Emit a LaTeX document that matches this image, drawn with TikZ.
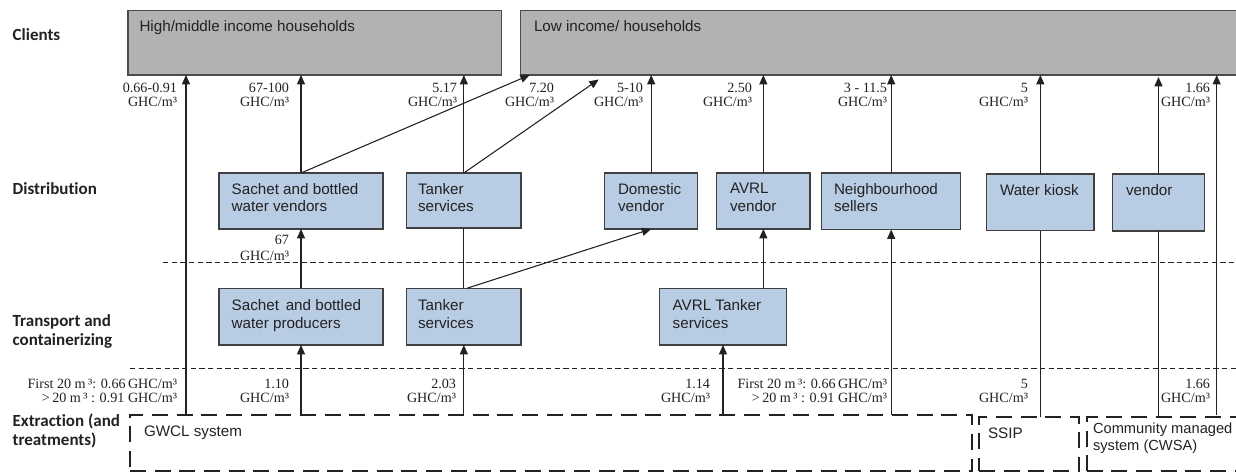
\documentclass[tikz,border=0pt]{standalone}
\usepackage{fontspec}
\setmainfont{Liberation Sans}
\newfontfamily\lblfont[Ligatures=CommonOff]{Carlito}
\newfontfamily\pricefont{Liberation Serif}
\usetikzlibrary{arrows.meta,calc,fit}
\definecolor{cgray}{HTML}{B1B2B4}
\definecolor{cblue}{HTML}{B8CCE4}
\definecolor{ink}{HTML}{222222}
\begin{document}
\begin{tikzpicture}[x=0.75pt,y=-0.75pt,
  every node/.style={inner sep=0pt, outer sep=0pt},
  clientbox/.style={draw=black!70, fill=cgray, line width=1pt, rectangle},
  actorbox/.style={draw=black!75, fill=cblue, line width=1pt, rectangle},
  extrbox/.style={draw=ink, line width=1.5pt, dash pattern=on 12pt off 6.5pt, rectangle},
  boxtext/.style={anchor=north west, align=left, text=ink, font=\fontsize{11.4}{13.1}\selectfont},
  cat/.style={anchor=west, align=left, text=ink, font=\lblfont\bfseries\fontsize{12.75}{14.6}\selectfont},
  price/.style={anchor=east, align=right, text=ink, font=\pricefont\fontsize{10.6}{10.9}\selectfont},
  arr/.style={draw=ink, line width=0.8pt, -{Triangle[length=7pt,width=6pt]}},
  link/.style={draw=ink, line width=0.8pt},
  tier/.style={draw=ink, line width=0.8pt, dash pattern=on 4pt off 2.5pt},
]
\useasboundingbox (0,0) rectangle (1236,473);
\clip (0,0) rectangle (1236,473);

% category labels
\node[cat] (lcl) at (12.7,35) {Clients};
\node[cat] (ldi) at (12.7,189) {Distribution};
\node[cat] (ltr) at (12.7,331.5) {Transport and\\containerizing};
\node[cat] (lex) at (12.7,431) {Extraction (and\\treatments)};

% tier separators
\draw[tier] (163,262.7) -- (1236,262.7);
\draw[tier] (130,368.3) -- (1236,368.3);

% clients
\node[clientbox, fit={(128,10.7) (501.7,75)}] (hm) {};
\node[clientbox, fit={(520.7,10.7) (1250,75)}] (lo) {};
\path (hm.north west) ++(11.5,9.5) node[boxtext] {High/middle income households};
\path (lo.north west) ++(13.3,9.5) node[boxtext] {Low income/ households};

% distribution
\node[actorbox, fit={(219,173) (383,229)}] (sv) {};
\node[actorbox, fit={(406.7,173) (521,228)}] (td) {};
\node[actorbox, fit={(604.7,173) (697.7,229)}] (dv) {};
\node[actorbox, fit={(716.7,173) (810,229)}] (av) {};
\node[actorbox, fit={(821.7,173) (960.7,229.5)}] (ns) {};
\node[actorbox, fit={(986.7,174) (1094,230.7)}] (wk) {};
\node[actorbox, fit={(1112.7,174) (1204.3,231)}] (ve) {};
\path (sv.north west) ++(12.7,10.5) node[boxtext] {Sachet and bottled\\water vendors};
\path (td.north west) ++(11.3,10.5) node[boxtext] {Tanker\\services};
\path (dv.north west) ++(13.3,10.5) node[boxtext] {Domestic\\vendor};
\path (av.north west) ++(13.3,10.5) node[boxtext] {AVRL\\vendor};
\path (ns.north west) ++(12.3,10.5) node[boxtext] {Neighbourhood\\sellers};
\path (wk.north west) ++(13.3,10.5) node[boxtext] {Water kiosk};
\path (ve.north west) ++(13.3,10.5) node[boxtext] {vendor};

% transport
\node[actorbox, fit={(219,288.3) (383,345)}] (sp) {};
\node[actorbox, fit={(406.7,288.3) (521,345)}] (tt) {};
\node[actorbox, fit={(659.3,288.3) (786.7,345)}] (at) {};
\path (sp.north west) ++(12.7,11.5) node[boxtext] {Sachet\, and bottled\\water producers};
\path (tt.north west) ++(11.3,11.5) node[boxtext] {Tanker\\services};
\path (at.north west) ++(13.4,11.5) node[boxtext] {AVRL Tanker\\services};

% extraction
\node[extrbox, fit={(130,415) (971.7,471.5)}] (gw) {};
\node[extrbox, fit={(979,417) (1079.3,471.5)}] (ss) {};
\node[extrbox, fit={(1086.7,417) (1250,471.5)}] (cm) {};
\node[boxtext, anchor=west] (tgw) at (144,433) {GWCL system};
\node[boxtext, anchor=west] (tss) at (988,433) {SSIP};
\node[boxtext, anchor=west, font=\fontsize{11}{12.75}\selectfont] (tcm) at (1093,438.5) {Community managed\\system (CWSA)};

\coordinate (e1) at (186,415);
\coordinate (e2) at (1216.7,415);

% connectors
\draw[arr] (e1) -- (e1 |- hm.south);
\draw[arr] (sp.south |- gw.north) -- (sp.south);
\draw[arr] (tt.south |- gw.north) -- (tt.south);
\draw[arr] (at.south |- gw.north) -- (at.south);
\draw[arr] (ns.south |- gw.north) -- (ns.south);
\draw[link] (wk.south |- ss.north) -- (wk.south);
\draw[link] (ve.south |- cm.north) -- (ve.south);
\draw[arr] (e2) -- (e2 |- lo.south);

\draw[arr] (sp.north) -- (sv.south);
\draw[link] (tt.north) -- (td.south);
\draw[arr] ($(tt.north)+(3,0)$) -- (dv.south);
\draw[arr] (at.north -| av.south) -- (av.south);

\draw[arr] (sv.north) -- (sv.north |- hm.south);
\draw[arr] (sv.north) -- ($(lo.south west)+(9,0)$);
\draw[arr] (td.north) -- (td.north |- hm.south);
\draw[arr] (td.north) -- ($(lo.south west)+(78,4.5)$);
\draw[arr] (dv.north) -- (dv.north |- lo.south);
\draw[arr] (av.north) -- (av.north |- lo.south);
\draw[arr] (ns.north) -- (ns.north |- lo.south);
\draw[arr] (wk.north) -- (wk.north |- lo.south);
\draw[arr] (ve.north) -- ($(ve.north |- lo.south)+(0,2)$);

% prices, top row
\node[price] (pt1) at (177,95) {0.66-0.91\\GHC/m³};
\node[price] (pt2) at (289,95) {67-100\\GHC/m³};
\node[price] (pt3) at (457,95) {5.17\\GHC/m³};
\node[price] (pt4) at (554,95) {7.20\\GHC/m³};
\node[price] (pt5) at (643,95) {5-10\\GHC/m³};
\node[price] (pt6) at (752,95) {2.50\\GHC/m³};
\node[price] (pt7) at (887,95) {3 - 11.5\\GHC/m³};
\node[price] (pt8) at (1028,95) {5\\GHC/m³};
\node[price] (pt9) at (1210,95) {1.66\\GHC/m³};
% middle
\node[price, font=\pricefont\fontsize{10.6}{12}\selectfont] (pm1) at (289,247.5) {67\\GHC/m³};
% bottom row
\node[price] (pb1) at (177,391) {First 20 m\,³: 0.66\,GHC/m³\\>\,20 m\,³ : 0.91 GHC/m³};
\node[price] (pb2) at (289,391) {1.10\\GHC/m³};
\node[price] (pb3) at (456,391) {2.03\\GHC/m³};
\node[price] (pb4) at (710,391) {1.14\\GHC/m³};
\node[price] (pb5) at (887,391) {First 20 m\,³: 0.66\,GHC/m³\\>\,20 m\,³ : 0.91 GHC/m³};
\node[price] (pb6) at (1028,391) {5\\GHC/m³};
\node[price] (pb7) at (1210,391) {1.66\\GHC/m³};
\end{tikzpicture}
\end{document}
